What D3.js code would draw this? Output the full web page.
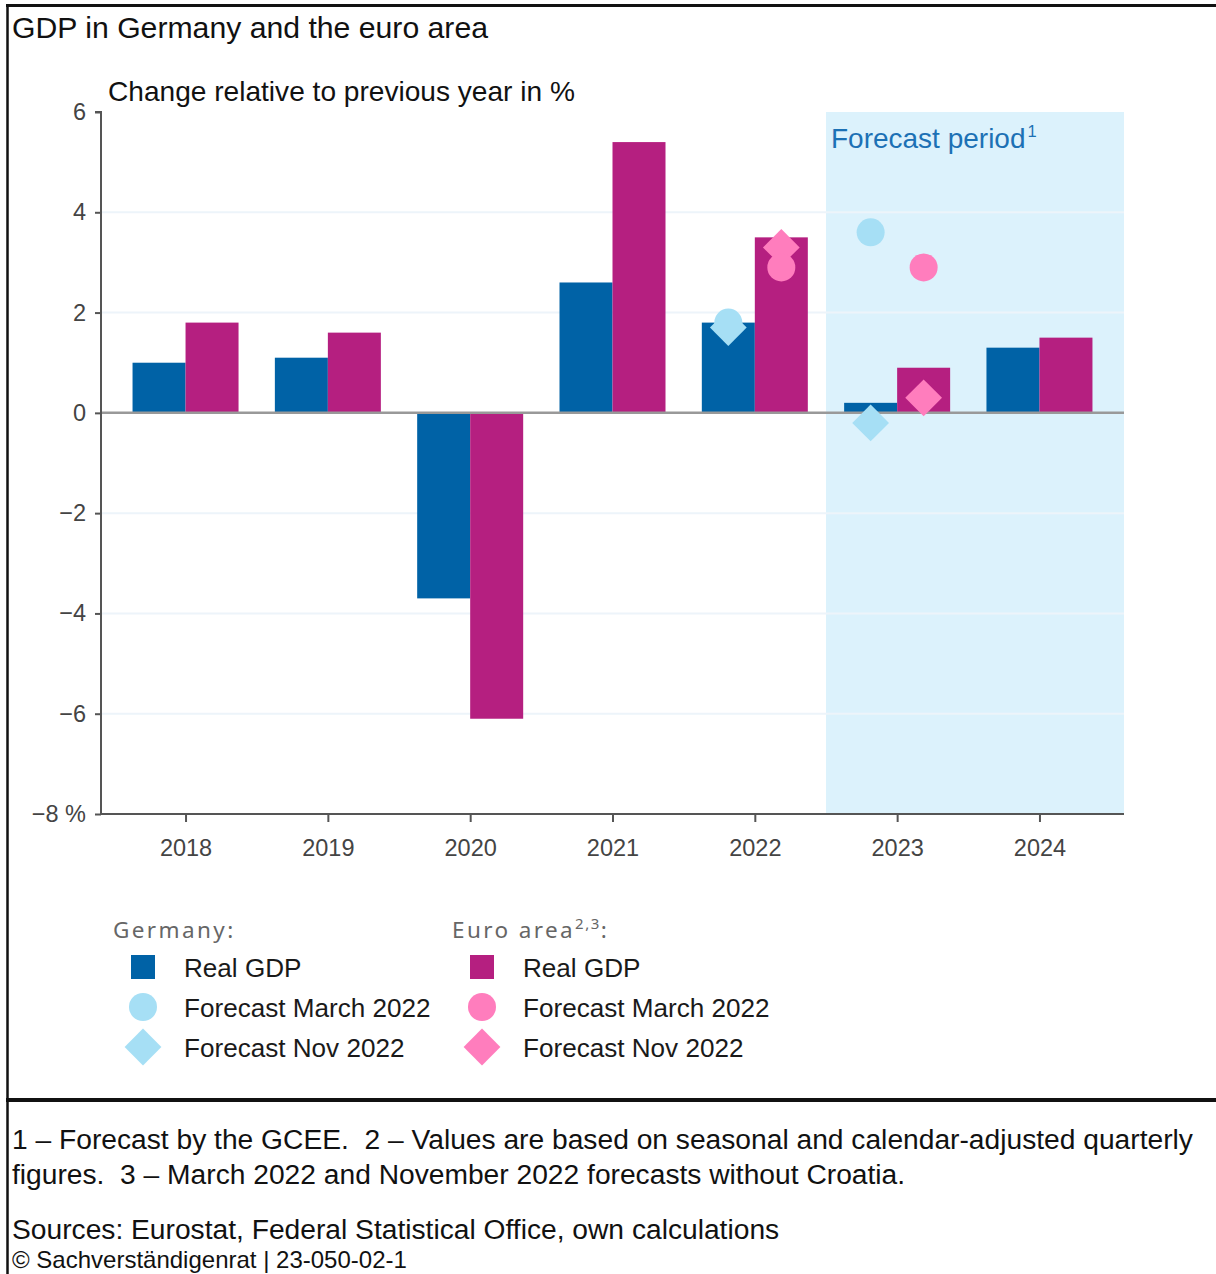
<!DOCTYPE html>
<html><head><meta charset="utf-8">
<script src="https://cdn.jsdelivr.net/npm/d3@7"></script>
<style>
html,body{margin:0;padding:0;background:#fff;}
svg{display:block;font-family:"Liberation Sans",Arial,Helvetica,sans-serif;}
</style></head>
<body>
<svg id="chart" width="1216" height="1274"></svg>
<script>
// ---- data ----
const years = ["2018","2019","2020","2021","2022","2023","2024"];
const germanyGDP = [1.0, 1.1, -3.7, 2.6, 1.8, 0.2, 1.3];
const euroGDP = [1.8, 1.6, -6.1, 5.4, 3.5, 0.9, 1.5];
const forecastYears = ["2022","2023"];
const germanyMarch2022 = [1.8, 3.6];
const germanyNov2022 = [1.7, -0.2];
const euroMarch2022 = [2.9, 2.9];
const euroNov2022 = [3.3, 0.3];
const yTicks = [6,4,2,0,-2,-4,-6,-8];
const forecastStart = "2023";

const C = {de:"#0062a6", ea:"#b51f80", deF:"#a6dff5", eaF:"#ff7dbd",
           shade:"#dcf2fc", grid:"#edf4fa", axis:"#555", zero:"#999", fcText:"#1c71b5"};

const svg = d3.select("#chart");
const W = 1216, H = 1274;

// frame
svg.append("line").attr("x1",6).attr("x2",W).attr("y1",5.5).attr("y2",5.5).attr("stroke","#111").attr("stroke-width",3);
svg.append("line").attr("x1",7.5).attr("x2",7.5).attr("y1",4).attr("y2",H).attr("stroke","#111").attr("stroke-width",2.5);
svg.append("line").attr("x1",6).attr("x2",W).attr("y1",1100).attr("y2",1100).attr("stroke","#111").attr("stroke-width",4);

// titles
svg.append("text").attr("x",12).attr("y",38).attr("font-size",30.2).attr("fill","#111").text("GDP in Germany and the euro area");
svg.append("text").attr("x",108).attr("y",101).attr("font-size",28.1).attr("fill","#111").text("Change relative to previous year in %");

// scales
const x = d3.scalePoint().domain(years).range([101,1124]).padding(0.594);
const y = d3.scaleLinear().domain([-8,6]).range([814,112]);
const bw = 53;
const left = 101, right = 1124;

// forecast shading
const fx = x(forecastStart) - x.step()/2;
svg.append("rect").attr("x",fx).attr("y",y(6)).attr("width",right-fx).attr("height",y(-8)-y(6)).attr("fill",C.shade);

// gridlines
svg.append("g").selectAll("line").data(yTicks.filter(d=>d!==0 && d!==-8 && d!==6)).join("line")
  .attr("x1",left).attr("x2",right).attr("y1",d=>y(d)).attr("y2",d=>y(d))
  .attr("stroke",C.grid).attr("stroke-width",2);

// forecast label
const fl = svg.append("text").attr("x",fx+5).attr("y",148).attr("font-size",28).attr("fill",C.fcText);
fl.append("tspan").text("Forecast period");
fl.append("tspan").attr("font-size",16.5).attr("dx",2).attr("dy",-11).text("1");

// bars
const data = years.map((yr,i)=>({yr, de:germanyGDP[i], ea:euroGDP[i]}));
svg.append("g").selectAll("rect").data(data).join("rect")
  .attr("x",d=>x(d.yr)-bw).attr("width",bw)
  .attr("y",d=>y(Math.max(0,d.de))).attr("height",d=>Math.abs(y(d.de)-y(0)))
  .attr("fill",C.de);
svg.append("g").selectAll("rect").data(data).join("rect")
  .attr("x",d=>x(d.yr)).attr("width",bw)
  .attr("y",d=>y(Math.max(0,d.ea))).attr("height",d=>Math.abs(y(d.ea)-y(0)))
  .attr("fill",C.ea);

// zero line
svg.append("line").attr("x1",left).attr("x2",right).attr("y1",y(0)).attr("y2",y(0)).attr("stroke",C.zero).attr("stroke-width",2.5);

// markers
const circ = d3.symbol(d3.symbolCircle, Math.PI*14*14)();
const diam = d3.symbol(d3.symbolSquare, 26*26)();
function markers(vals, dx, shape, color, rot){
  svg.append("g").selectAll("path").data(forecastYears.map((yr,i)=>({yr,v:vals[i]}))).join("path")
    .attr("d",shape)
    .attr("transform",d=>`translate(${x(d.yr)+dx},${y(d.v)}) rotate(${rot})`)
    .attr("fill",color);
}
markers(germanyNov2022, -bw/2, diam, C.deF, 45);
markers(germanyMarch2022, -bw/2, circ, C.deF, 0);
markers(euroNov2022, bw/2, diam, C.eaF, 45);
markers(euroMarch2022, bw/2, circ, C.eaF, 0);

// axes
const yAxis = d3.axisLeft(y).tickValues(yTicks).tickSize(6).tickPadding(9)
  .tickFormat(d=> (d<0?"\u2212"+Math.abs(d):String(d)) + (d===-8?" %":""));
const gy = svg.append("g").attr("transform",`translate(${left},0)`).call(yAxis);
gy.select(".domain").attr("stroke",C.axis).attr("stroke-width",2).attr("d",`M-6,${y(6)}H0V${y(-8)}`);
gy.selectAll(".tick line").attr("stroke",C.axis).attr("stroke-width",2);
gy.selectAll(".tick text").attr("font-size",23.5).attr("fill","#444").attr("font-family","Liberation Sans, Arial, sans-serif");

const xAxis = d3.axisBottom(x).tickSize(8).tickPadding(17);
const gx = svg.append("g").attr("transform",`translate(0,${y(-8)})`).call(xAxis);
gx.select(".domain").attr("stroke",C.axis).attr("stroke-width",2).attr("d",`M${left},0H${right}`);
gx.selectAll(".tick line").attr("stroke",C.axis).attr("stroke-width",2);
gx.selectAll(".tick text").attr("font-size",23.5).attr("fill","#444").attr("font-family","Liberation Sans, Arial, sans-serif");

// legend
const legendGroups = [
  {x:113, title:"Germany", sup:"", cols:[C.de,C.deF,C.deF]},
  {x:452, title:"Euro area", sup:"2,3", cols:[C.ea,C.eaF,C.eaF]}
];
const legendLabels = ["Real GDP","Forecast March 2022","Forecast Nov 2022"];
const rowY = [967, 1007, 1047];
legendGroups.forEach(g=>{
  const t = svg.append("text").attr("x",g.x).attr("y",938).attr("font-family","'Noto Sans', 'Open Sans', sans-serif")
    .attr("font-size",22.5).attr("letter-spacing",2.4).attr("fill","#666");
  t.append("tspan").text(g.title);
  if(g.sup){ t.append("tspan").attr("font-size",15).attr("dy",-9).attr("letter-spacing",1.5).text(g.sup); t.append("tspan").attr("dy",9).text(":"); }
  else t.append("tspan").text(":");
  const mx = g.x + 30;
  svg.append("rect").attr("x",mx-12).attr("y",rowY[0]-12).attr("width",24).attr("height",24).attr("fill",g.cols[0]);
  svg.append("path").attr("d",circ).attr("transform",`translate(${mx},${rowY[1]})`).attr("fill",g.cols[1]);
  svg.append("path").attr("d",diam).attr("transform",`translate(${mx},${rowY[2]}) rotate(45)`).attr("fill",g.cols[2]);
  legendLabels.forEach((lab,i)=>{
    svg.append("text").attr("x",g.x+71).attr("y",rowY[i]+10).attr("font-size",26.1).attr("fill","#1a1a1a").text(lab);
  });
});

// footer
const foot = [
  {t:"1 \u2013 Forecast by the GCEE.  2 \u2013 Values are based on seasonal and calendar-adjusted quarterly", y:1149, s:28.2},
  {t:"figures.  3 \u2013 March 2022 and November 2022 forecasts without Croatia.", y:1184, s:28.2},
  {t:"Sources: Eurostat, Federal Statistical Office, own calculations", y:1239, s:28.2},
  {t:"\u00A9 Sachverst\u00E4ndigenrat | 23-050-02-1", y:1268, s:24}
];
svg.append("g").selectAll("text").data(foot).join("text")
  .attr("x",12).attr("y",d=>d.y).attr("font-size",d=>d.s).attr("fill","#111")
  .attr("xml:space","preserve").style("white-space","pre").text(d=>d.t);
</script>
</body></html>
